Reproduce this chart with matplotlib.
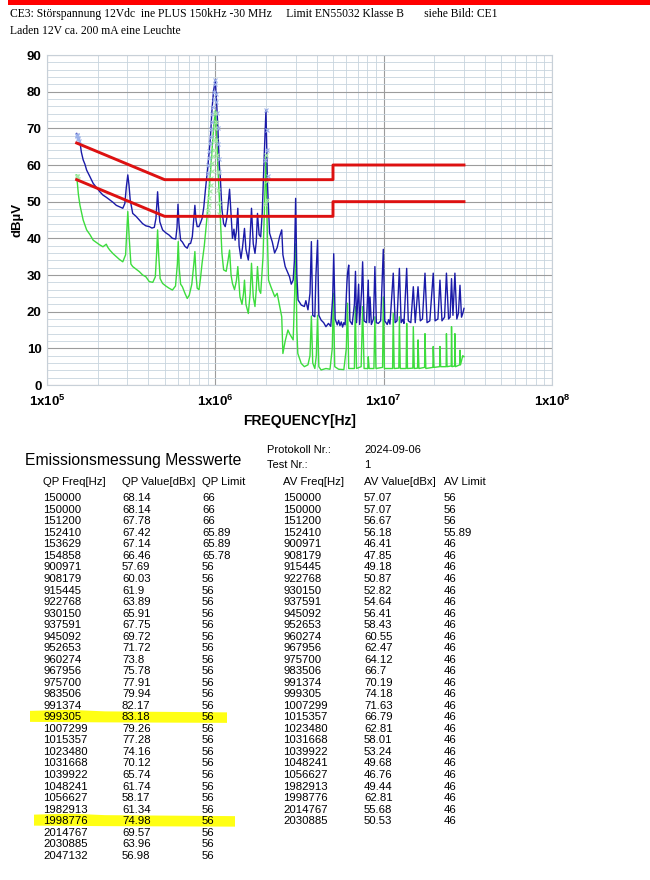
import matplotlib
matplotlib.use('Agg')
import matplotlib.pyplot as plt

# Schriften
plt.rcParams['font.family'] = 'Liberation Sans'
plt.rcParams['mathtext.fontset'] = 'custom'
plt.rcParams['mathtext.rm'] = 'Liberation Sans:bold'
plt.rcParams['mathtext.it'] = 'Liberation Sans:bold'
plt.rcParams['mathtext.bf'] = 'Liberation Sans:bold'

# ---------------- Daten ----------------
# Peak-Scan (blau), (Frequenz Hz, dBuV)
peak_scan = [
    (150000, 68.6), (153000, 67.5), (157000, 66.2), (160000, 63.5), (164000, 61.4),
    (168000, 60.2), (172000, 58.6), (180000, 56.8), (188000, 55.0), (197000, 53.8),
    (206000, 52.7), (215000, 51.8), (225000, 51.2), (236000, 50.5), (247000, 49.8),
    (258000, 49.0), (270000, 48.6), (282000, 48.2), (290000, 49.5), (296000, 54.0),
    (302000, 57.3), (307000, 54.5), (312000, 50.5), (323000, 46.8), (338000, 46.0),
    (354000, 45.0), (370000, 44.0), (387000, 43.4), (405000, 43.2), (420000, 42.8),
    (434000, 43.0), (444000, 45.5), (449000, 49.0), (454000, 52.7), (459000, 49.0),
    (468000, 44.5), (486000, 42.3), (508000, 41.5), (531000, 40.9), (556000, 40.0),
    (582000, 39.8), (592000, 43.0), (600000, 49.3), (608000, 44.0), (622000, 39.5),
    (637000, 39.0), (660000, 37.8), (681000, 37.3), (697000, 38.5), (713000, 38.6),
    (730000, 40.5), (745000, 45.5), (756000, 49.0), (768000, 45.0), (780000, 43.2),
    (798000, 43.2), (816000, 44.2), (835000, 45.5), (854000, 48.5), (873000, 53.2),
    (893000, 57.5), (914000, 62.3), (935000, 67.5), (955000, 75.0), (975000, 80.0),
    (999305, 83.2), (1015000, 78.0), (1035000, 70.4), (1056000, 60.0), (1070000, 56.8),
    (1094000, 48.0), (1120000, 44.0), (1145000, 43.2), (1170000, 45.5), (1195000, 50.0),
    (1215000, 53.4), (1235000, 48.0), (1264000, 40.0), (1290000, 42.5), (1311000, 39.5),
    (1335000, 42.0), (1360000, 48.2), (1384000, 38.0), (1420000, 34.5), (1450000, 37.5),
    (1490000, 42.7), (1520000, 37.0), (1570000, 34.1), (1600000, 38.0), (1640000, 48.2),
    (1680000, 38.5), (1720000, 35.9), (1750000, 39.0), (1780000, 46.8), (1820000, 41.0),
    (1860000, 40.4), (1900000, 47.0), (1950000, 62.0), (1998776, 75.0), (2040000, 55.0),
    (2100000, 41.4), (2180000, 39.0), (2250000, 36.0), (2330000, 37.5), (2410000, 40.5),
    (2480000, 42.3), (2520000, 35.5), (2600000, 32.3), (2700000, 30.5), (2760000, 29.5),
    (2825000, 27.5), (2900000, 28.6), (2950000, 34.0), (3000000, 50.9), (3050000, 30.0),
    (3100000, 23.2), (3240000, 21.8), (3380000, 21.4), (3450000, 23.0), (3550000, 20.5),
    (3650000, 25.0), (3720000, 39.1), (3790000, 19.0), (3900000, 18.6), (3960000, 30.0),
    (4050000, 39.5), (4120000, 19.0), (4250000, 17.7), (4400000, 17.0), (4540000, 15.9),
    (4700000, 16.8), (4850000, 16.0), (4980000, 24.0), (5050000, 35.8), (5150000, 18.0),
    (5300000, 16.4), (5400000, 17.6), (5500000, 16.2), (5600000, 17.2), (5700000, 15.8),
    (5800000, 17.0), (5900000, 16.4), (6050000, 28.0),
    (6100000, 30.5), (6200000, 32.7), (6300000, 17.5), (6500000, 16.5), (6700000, 22.0),
    (6800000, 31.0), (6900000, 17.0), (7100000, 27.5), (7200000, 16.5), (7400000, 26.0),
    (7500000, 33.6), (7650000, 17.5), (7900000, 17.0), (8100000, 28.6), (8200000, 17.0),
    (8300000, 24.0), (8450000, 16.5), (8700000, 18.0), (8870000, 32.3), (9050000, 17.0),
    (9300000, 16.8), (9600000, 17.5), (9950000, 37.0), (10150000, 17.5), (10500000, 16.5),
    (10700000, 17.8), (10900000, 16.6), (11400000, 30.5), (11700000, 17.0), (12000000, 17.5),
    (12400000, 31.8), (12700000, 17.0), (13000000, 17.9), (13200000, 16.8), (13700000, 31.8),
    (14000000, 17.5), (14500000, 17.0), (15000000, 26.8), (15400000, 17.0), (16000000, 26.8),
    (16500000, 17.5), (17000000, 18.0), (17600000, 30.5), (18100000, 17.0), (18800000, 17.5),
    (19700000, 30.5), (20200000, 17.5), (21000000, 18.0), (21600000, 28.6), (22200000, 17.5),
    (23000000, 18.5), (23600000, 30.5), (24300000, 18.0), (24800000, 18.5), (25300000, 29.0),
    (25800000, 19.0), (26500000, 30.5), (27200000, 18.0), (27800000, 19.5), (28400000, 27.2),
    (29000000, 18.5), (29500000, 19.5), (30000000, 20.9),
]

# Average-Scan (gruen)
avg_scan = [
    (150000, 57.3), (153600, 52.0), (157000, 49.0), (164000, 45.0), (172000, 42.3),
    (180000, 41.0), (188000, 39.5), (206000, 38.2), (215000, 37.7), (225000, 38.4),
    (230000, 37.5), (236000, 36.8), (247000, 35.8), (258000, 35.0), (270000, 34.2),
    (282000, 33.6), (293000, 35.5), (302000, 47.3), (308000, 40.0), (315000, 33.0),
    (323000, 32.3), (340000, 31.5), (354000, 30.9), (370000, 30.0), (387000, 29.5),
    (405000, 28.2), (425000, 28.0), (440000, 29.5), (448000, 36.0), (454000, 42.3),
    (460000, 36.0), (470000, 29.0), (486000, 27.7), (508000, 27.0), (531000, 26.4),
    (556000, 25.9), (580000, 27.0), (595000, 33.0), (602000, 39.1), (610000, 32.0),
    (622000, 27.5), (637000, 26.8), (660000, 25.0), (681000, 23.6), (700000, 24.5),
    (725000, 27.5), (745000, 33.0), (756000, 36.4), (768000, 30.0), (780000, 26.4),
    (800000, 26.0), (816000, 29.0), (834000, 33.2), (860000, 38.0), (893000, 45.9),
    (925000, 55.0), (955000, 64.0), (980000, 71.0), (999305, 74.8), (1020000, 68.0),
    (1035000, 59.5), (1070000, 45.9), (1094000, 36.0), (1120000, 31.4), (1160000, 31.0),
    (1190000, 34.0), (1215000, 36.8), (1240000, 30.0), (1264000, 27.7), (1300000, 26.0),
    (1335000, 28.5), (1360000, 32.3), (1400000, 24.1), (1440000, 22.0), (1470000, 25.0),
    (1490000, 28.6), (1520000, 22.0), (1570000, 19.5), (1610000, 25.0), (1640000, 33.2),
    (1680000, 24.0), (1720000, 21.4), (1750000, 26.0), (1780000, 32.3), (1820000, 26.0),
    (1860000, 25.0), (1920000, 35.0), (1998776, 62.0), (2040000, 40.0), (2070000, 28.6),
    (2150000, 26.5), (2254000, 24.1), (2330000, 25.0), (2410000, 21.5), (2480000, 18.6),
    (2520000, 8.6), (2600000, 12.0), (2700000, 15.0), (2760000, 14.0), (2825000, 13.2),
    (2900000, 12.3), (2960000, 25.0), (3000000, 38.5), (3050000, 15.0), (3090000, 8.6),
    (3236000, 5.9), (3380000, 5.0), (3550000, 5.5), (3650000, 8.0), (3720000, 18.8),
    (3790000, 6.0), (3900000, 4.5), (3980000, 8.0), (4050000, 19.0), (4120000, 5.0),
    (4250000, 4.1), (4540000, 4.5), (4800000, 4.3), (4950000, 10.0), (5030000, 25.0),
    (5120000, 5.0), (5400000, 4.3), (5800000, 4.2), (6000000, 10.0), (6100000, 22.3),
    (6200000, 4.5), (6700000, 4.5), (6780000, 21.4), (6900000, 4.5), (7350000, 5.0),
    (7500000, 21.4), (7650000, 4.5), (8050000, 4.5), (8100000, 7.7), (8200000, 4.5),
    (8750000, 4.5), (8870000, 18.6), (9000000, 4.5), (9850000, 4.8), (9950000, 24.0),
    (10100000, 4.5), (11300000, 4.5), (11400000, 19.5), (11550000, 4.5), (12300000, 4.6),
    (12400000, 18.6), (12550000, 4.5), (13600000, 4.5), (13700000, 16.8), (13850000, 4.5),
    (14900000, 4.6), (15000000, 15.9), (15200000, 4.5), (15900000, 4.6), (16000000, 12.3),
    (16200000, 4.5), (17500000, 4.8), (17600000, 14.0), (17800000, 4.5), (19600000, 4.8),
    (19700000, 10.5), (19900000, 4.8), (21500000, 5.0), (21600000, 10.5), (21800000, 5.0),
    (23500000, 5.0), (23600000, 14.0), (23800000, 5.0), (25200000, 5.2), (25300000, 15.9),
    (25500000, 5.0), (26400000, 5.2), (26500000, 14.0), (26700000, 5.0), (28300000, 5.5),
    (28400000, 9.5), (28600000, 5.5), (29500000, 8.0), (30000000, 7.7),
]

# Grenzwerte EN55032 Klasse B
qp_line_freq = [150000, 500000, 5000000, 5000000, 30000000]
qp_line_db = [66, 56, 56, 60, 60]
av_line_freq = [150000, 500000, 5000000, 5000000, 30000000]
av_line_db = [56, 46, 46, 50, 50]

# Messwerte-Tabelle
qp_freq = [150000, 150000, 151200, 152410, 153629, 154858, 900971, 908179, 915445,
           922768, 930150, 937591, 945092, 952653, 960274, 967956, 975700, 983506,
           991374, 999305, 1007299, 1015357, 1023480, 1031668, 1039922, 1048241,
           1056627, 1982913, 1998776, 2014767, 2030885, 2047132]
qp_value = ['68.14', '68.14', '67.78', '67.42', '67.14', '66.46', '57.69', '60.03',
            '61.9', '63.89', '65.91', '67.75', '69.72', '71.72', '73.8', '75.78',
            '77.91', '79.94', '82.17', '83.18', '79.26', '77.28', '74.16', '70.12',
            '65.74', '61.74', '58.17', '61.34', '74.98', '69.57', '63.96', '56.98']
qp_limit = ['66', '66', '66', '65.89', '65.89', '65.78'] + ['56'] * 26

av_freq = [150000, 150000, 151200, 152410, 900971, 908179, 915445, 922768, 930150,
           937591, 945092, 952653, 960274, 967956, 975700, 983506, 991374, 999305,
           1007299, 1015357, 1023480, 1031668, 1039922, 1048241, 1056627, 1982913,
           1998776, 2014767, 2030885]
av_value = ['57.07', '57.07', '56.67', '56.18', '46.41', '47.85', '49.18', '50.87',
            '52.82', '54.64', '56.41', '58.43', '60.55', '62.47', '64.12', '66.7',
            '70.19', '74.18', '71.63', '66.79', '62.81', '58.01', '53.24', '49.68',
            '46.76', '49.44', '62.81', '55.68', '50.53']
av_limit = ['56', '56', '56', '55.89'] + ['46'] * 25

highlight_rows = [19, 28]

# ---------------- Seite ----------------
fig = plt.figure(figsize=(6.5, 8.8), dpi=100)
page = fig.add_axes([0, 0, 1, 1])
page.set_xlim(0, 650)
page.set_ylim(880, 0)
page.axis('off')

# roter Balken oben
page.fill_between([8, 650], 0, 5, color='#ff0000', lw=0)

page.text(10, 14, 'CE3: Störspannung 12Vdc  ine PLUS 150kHz -30 MHz     Limit EN55032 Klasse B'
          '       siehe Bild: CE1', family='Liberation Serif', fontsize=8.4, va='center')
page.text(10, 31, 'Laden 12V ca. 200 mA eine Leuchte', family='Liberation Serif',
          fontsize=8.4, va='center')

# ---------------- Diagramm ----------------
ax = fig.add_axes([47 / 650, 1 - 385 / 880, 505 / 650, 330 / 880])
ax.set_xscale('log')
ax.set_xlim(1e5, 1e8)
ax.set_ylim(0, 90)
ax.set_yticks(range(0, 91, 10))
ax.set_yticks(range(0, 91, 2), minor=True)
ax.set_xticks([1e5, 1e6, 1e7, 1e8])
ax.set_xticklabels(['1x10$^{5}$', '1x10$^{6}$', '1x10$^{7}$', '1x10$^{8}$'],
                   fontweight='bold', fontsize=9.5)
ax.set_yticklabels([str(v) for v in range(0, 91, 10)], fontweight='bold', fontsize=9.5)
ax.xaxis.set_minor_formatter(plt.NullFormatter())
ax.tick_params(which='both', length=0)
ax.tick_params(axis='x', pad=6)
ax.tick_params(axis='y', pad=4)
ax.grid(which='minor', color='#c8d5de', lw=0.6)
ax.grid(which='major', color='#9c9c9c', lw=0.8)
ax.set_axisbelow(True)
for sp in ax.spines.values():
    sp.set_color('#c8d0d8')
    sp.set_linewidth(0.8)

af, av = zip(*avg_scan)
pf, pv = zip(*peak_scan)
ax.plot(af, av, color='#3ddc3d', lw=1.0)
ax.plot(pf, pv, color='#1a1aa8', lw=1.0)
ax.plot(qp_freq, [float(v) for v in qp_value], 'x', color='#9db2ea', ms=3.5, mew=0.8)
ax.plot(av_freq, [float(v) for v in av_value], 'x', color='#a5eaa5', ms=3.5, mew=0.8)
ax.plot(qp_line_freq, qp_line_db, color='#dd1111', lw=2.1)
ax.plot(av_line_freq, av_line_db, color='#dd1111', lw=2.1)

ax.set_ylabel('dBµV', fontweight='bold', fontsize=9.5, labelpad=2)
ax.set_xlabel('FREQUENCY[Hz]', fontweight='bold', fontsize=10, labelpad=4)

# ---------------- Tabelle ----------------
page.text(25, 460, 'Emissionsmessung Messwerte', fontsize=11.3, va='center')
page.text(267, 450, 'Protokoll Nr.:', fontsize=8, va='center')
page.text(267, 465, 'Test Nr.:', fontsize=8, va='center')
page.text(364, 450, '2024-09-06', fontsize=8, va='center')
page.text(364, 465, '1', fontsize=8, va='center')

headers = ['QP Freq[Hz]', 'QP Value[dBx]', 'QP Limit', 'AV Freq[Hz]', 'AV Value[dBx]', 'AV Limit']
cols = [43, 122, 202, 283, 364, 444]
for x, h in zip(cols, headers):
    page.text(x, 482, h, fontsize=8.2, va='center')

row0, dy = 498.3, 11.53

# Textmarker (gelb)
hl_left = [30, 34]
hl_right = [227, 235]
for i, x0, x1 in zip(highlight_rows, hl_left, hl_right):
    y = row0 + i * dy
    page.fill([x0, 70, 105, x1, x1, 105, x0],
              [y - 6.5, y - 7.5, y - 6, y - 5, y + 5.5, y + 5, y + 4.5],
              color='#ffff14', lw=0, zorder=0)

for i in range(len(qp_freq)):
    y = row0 + i * dy
    page.text(cols[0], y, str(qp_freq[i]), fontsize=8.2, va='center')
    page.text(cols[1], y, qp_value[i], fontsize=8.2, va='center')
    page.text(cols[2], y, qp_limit[i], fontsize=8.2, va='center')
for i in range(len(av_freq)):
    y = row0 + i * dy
    page.text(cols[3], y, str(av_freq[i]), fontsize=8.2, va='center')
    page.text(cols[4], y, av_value[i], fontsize=8.2, va='center')
    page.text(cols[5], y, av_limit[i], fontsize=8.2, va='center')

plt.savefig('out.png', dpi=100)
